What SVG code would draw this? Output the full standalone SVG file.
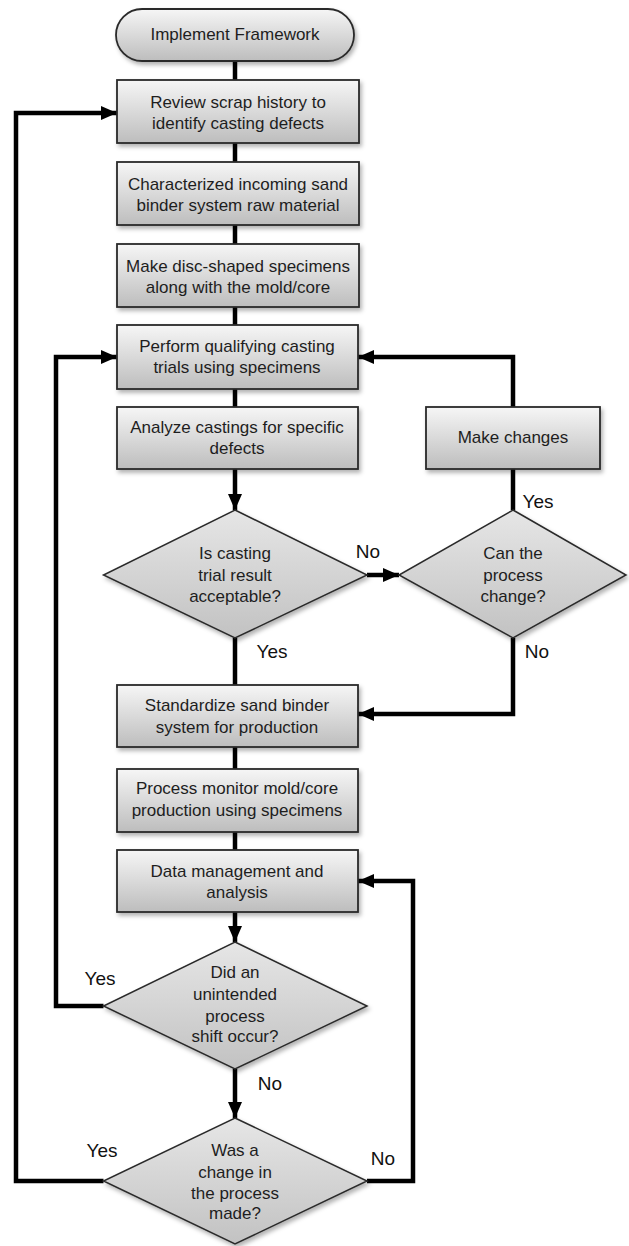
<svg xmlns="http://www.w3.org/2000/svg" width="629" height="1246" viewBox="0 0 629 1246">
<defs>
<style>
.box{fill:url(#gb);stroke:#2a2a2a;stroke-width:1.8;filter:url(#sh)}
.dia{fill:url(#gd);stroke:#2a2a2a;stroke-width:1.5;filter:url(#sh)}
.t{font-family:"Liberation Sans",Arial,sans-serif;font-size:17px;fill:#1e1e1e;text-anchor:middle}
.lbl{font-family:"Liberation Sans",Arial,sans-serif;font-size:19px;fill:#111;text-anchor:middle}
.c{fill:none;stroke:#000;stroke-width:4.5;stroke-linejoin:miter}
.a{marker-end:url(#ah)}
</style>
<linearGradient id="gb" x1="0" y1="0" x2="0" y2="1">
<stop offset="0" stop-color="#f6f6f6"/>
<stop offset="1" stop-color="#bdbdbd"/>
</linearGradient>
<linearGradient id="gd" x1="0" y1="0" x2="0" y2="1">
<stop offset="0" stop-color="#e6e6e6"/>
<stop offset="1" stop-color="#c2c2c2"/>
</linearGradient>
<filter id="sh" x="-10%" y="-10%" width="130%" height="140%">
<feDropShadow dx="2" dy="3" stdDeviation="2" flood-color="#000" flood-opacity="0.3"/>
</filter>
<marker id="ah" markerUnits="userSpaceOnUse" markerWidth="18" markerHeight="14" refX="16" refY="7" orient="auto">
<path d="M0,0 L16,7 L0,14 z" fill="#000"/>
</marker>
</defs>
<rect width="629" height="1246" fill="#fff"/>

<g id="connectors">
<line class="c" x1="235" y1="61" x2="235" y2="80"/>
<line class="c" x1="235" y1="143" x2="235" y2="162"/>
<line class="c" x1="235" y1="225" x2="235" y2="244"/>
<line class="c" x1="235" y1="307" x2="235" y2="325"/>
<line class="c" x1="235" y1="389" x2="235" y2="407"/>
<line class="c a" x1="235" y1="469" x2="235" y2="510"/>
<line class="c a" x1="367" y1="575" x2="399" y2="575"/>
<line class="c" x1="513" y1="469" x2="513" y2="510"/>
<polyline class="c a" points="513,407 513,357 358,357"/>
<polyline class="c a" points="513,638 513,714 358,714"/>
<line class="c" x1="235" y1="638" x2="235" y2="685"/>
<line class="c" x1="235" y1="747" x2="235" y2="769"/>
<line class="c" x1="235" y1="832" x2="235" y2="850"/>
<line class="c a" x1="235" y1="912" x2="235" y2="942"/>
<polyline class="c a" points="103.5,1006 56,1006 56,357 117,357"/>
<line class="c a" x1="235" y1="1069" x2="235" y2="1118"/>
<polyline class="c a" points="103.5,1181 16,1181 16,113 117,113"/>
<polyline class="c a" points="367,1181 413,1181 413,881 358,881"/>
</g>

<g id="n-start">
<rect class="box" x="116" y="9" width="238" height="52" rx="26" ry="26"/>
<text class="t" x="235" y="40">Implement Framework</text>
</g>
<g id="n-review">
<rect class="box" x="117" y="80" width="242" height="63"/>
<text class="t" x="238" y="108">Review scrap history to</text>
<text class="t" x="238" y="129">identify casting defects</text>
</g>
<g id="n-characterize">
<rect class="box" x="117" y="162" width="242" height="63"/>
<text class="t" x="238" y="190">Characterized incoming sand</text>
<text class="t" x="238" y="211">binder system raw material</text>
</g>
<g id="n-make-disc">
<rect class="box" x="117" y="244" width="242" height="63"/>
<text class="t" x="238" y="272">Make disc-shaped specimens</text>
<text class="t" x="238" y="293">along with the mold/core</text>
</g>
<g id="n-perform">
<rect class="box" x="117" y="325" width="241" height="64"/>
<text class="t" x="237" y="352">Perform qualifying casting</text>
<text class="t" x="237" y="373">trials using specimens</text>
</g>
<g id="n-analyze">
<rect class="box" x="117" y="407" width="241" height="62"/>
<text class="t" x="237" y="433">Analyze castings for specific</text>
<text class="t" x="237" y="454">defects</text>
</g>
<g id="n-make-changes">
<rect class="box" x="426" y="407" width="174" height="62"/>
<text class="t" x="513" y="443">Make changes</text>
</g>
<g id="n-acceptable">
<polygon class="dia" points="235,510 367,575 235,638 103.5,575"/>
<text class="t" x="235" y="559">Is casting</text>
<text class="t" x="235" y="581">trial result</text>
<text class="t" x="235" y="602">acceptable?</text>
</g>
<g id="n-can-change">
<polygon class="dia" points="513,510 626,575 513,638 399,575"/>
<text class="t" x="513" y="559">Can the</text>
<text class="t" x="513" y="581">process</text>
<text class="t" x="513" y="602">change?</text>
</g>
<g id="n-standardize">
<rect class="box" x="117" y="685" width="241" height="62"/>
<text class="t" x="237" y="711">Standardize sand binder</text>
<text class="t" x="237" y="733">system for production</text>
</g>
<g id="n-monitor">
<rect class="box" x="117" y="769" width="241" height="63"/>
<text class="t" x="237" y="794">Process monitor mold/core</text>
<text class="t" x="237" y="816">production using specimens</text>
</g>
<g id="n-data">
<rect class="box" x="117" y="850" width="241" height="62"/>
<text class="t" x="237" y="877">Data management and</text>
<text class="t" x="237" y="898">analysis</text>
</g>
<g id="n-shift">
<polygon class="dia" points="235,942 367,1006 235,1069 103.5,1006"/>
<text class="t" x="235" y="978">Did an</text>
<text class="t" x="235" y="1000">unintended</text>
<text class="t" x="235" y="1022">process</text>
<text class="t" x="235" y="1042">shift occur?</text>
</g>
<g id="n-change-made">
<polygon class="dia" points="235,1118 367,1181 235,1244 103.5,1181"/>
<text class="t" x="235" y="1156">Was a</text>
<text class="t" x="235" y="1178">change in</text>
<text class="t" x="235" y="1199">the process</text>
<text class="t" x="235" y="1219">made?</text>
</g>

<g id="labels">
<text class="lbl" x="368" y="558">No</text>
<text class="lbl" x="538" y="508">Yes</text>
<text class="lbl" x="272" y="658">Yes</text>
<text class="lbl" x="537" y="658">No</text>
<text class="lbl" x="100" y="985">Yes</text>
<text class="lbl" x="270" y="1090">No</text>
<text class="lbl" x="102" y="1157">Yes</text>
<text class="lbl" x="383" y="1165">No</text>
</g>
</svg>
